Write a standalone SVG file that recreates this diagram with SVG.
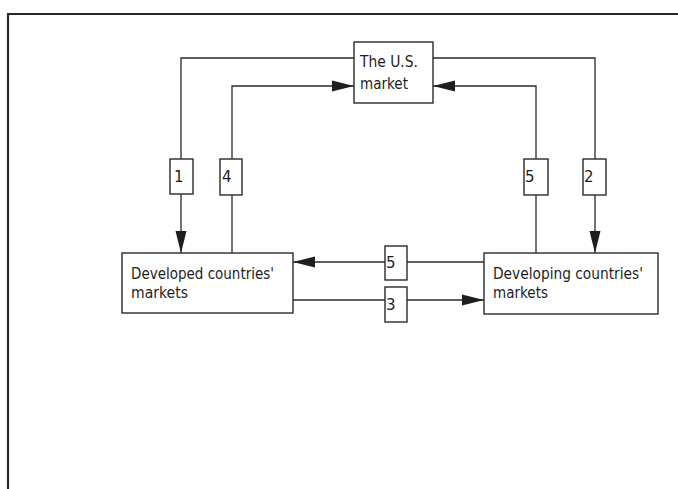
<svg xmlns="http://www.w3.org/2000/svg" width="678" height="489" viewBox="0 0 678 489">
<style>
.frame{fill:none;stroke:#2a2a2a;stroke-width:2.2}
.box{fill:#fff;stroke:#2a2a2a;stroke-width:1.4}
.ln{fill:none;stroke:#2a2a2a;stroke-width:1.3}
.t{font-family:"DejaVu Sans","Liberation Sans",sans-serif;font-size:15px;fill:#1e1e1e}
.n{font-family:"DejaVu Sans","Liberation Sans",sans-serif;font-size:15px;fill:#1e1e1e}
</style>
<defs>
<marker id="ah" markerUnits="userSpaceOnUse" markerWidth="22" markerHeight="12" refX="22" refY="6" orient="auto">
<path d="M0,0.5 L22,6 L0,11.5 Z" fill="#1e1e1e"/>
</marker>
</defs>
<rect width="678" height="489" fill="#fff"/>
<path class="frame" d="M8,495 V14 H690"/>
<g id="connectors">
<path class="ln" d="M354,58 H181 V253" marker-end="url(#ah)"/>
<path class="ln" d="M232,253 V86 H354" marker-end="url(#ah)"/>
<path class="ln" d="M433,58 H595 V253" marker-end="url(#ah)"/>
<path class="ln" d="M536,253 V86 H433" marker-end="url(#ah)"/>
<path class="ln" d="M484,262 H293" marker-end="url(#ah)"/>
<path class="ln" d="M293,300 H484" marker-end="url(#ah)"/>
</g>
<g id="us">
<rect class="box" x="354" y="42" width="79" height="61"/>
<text class="t" x="360" y="67" textLength="58" lengthAdjust="spacingAndGlyphs">The U.S.</text>
<text class="t" x="360" y="89" textLength="48" lengthAdjust="spacingAndGlyphs">market</text>
</g>
<g id="developed">
<rect class="box" x="122" y="253" width="171" height="60"/>
<text class="t" x="131" y="279" textLength="143" lengthAdjust="spacingAndGlyphs">Developed countries'</text>
<text class="t" x="131" y="298" textLength="57" lengthAdjust="spacingAndGlyphs">markets</text>
</g>
<g id="developing">
<rect class="box" x="484" y="253" width="174" height="61"/>
<text class="t" x="493" y="279" textLength="150" lengthAdjust="spacingAndGlyphs">Developing countries'</text>
<text class="t" x="493" y="298" textLength="55" lengthAdjust="spacingAndGlyphs">markets</text>
</g>
<g id="label1">
<rect class="box" x="170" y="159" width="23" height="35"/>
<text class="n" x="174" y="182">1</text>
</g>
<g id="label4">
<rect class="box" x="220" y="159" width="22" height="36"/>
<text class="n" x="222" y="182">4</text>
</g>
<g id="label5v">
<rect class="box" x="524" y="159" width="24" height="36"/>
<text class="n" x="525" y="182">5</text>
</g>
<g id="label2">
<rect class="box" x="583" y="159" width="23" height="36"/>
<text class="n" x="584" y="182">2</text>
</g>
<g id="label5h">
<rect class="box" x="385" y="246" width="22" height="34"/>
<text class="n" x="386" y="268">5</text>
</g>
<g id="label3">
<rect class="box" x="385" y="287" width="22" height="35"/>
<text class="n" x="386" y="310">3</text>
</g>
</svg>
